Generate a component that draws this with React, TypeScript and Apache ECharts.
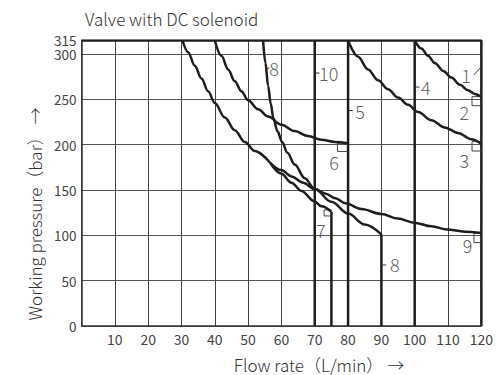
import React, { useEffect, useRef } from "react";
import * as echarts from "echarts";

// ---- data (flow rate L/min, pressure bar) ----
const titleText = "Valve with DC solenoid";
const xName = "Flow rate（L/min） →";
const yName = "Working pressure（bar） →";

const xMin = 0;
const xMax = 120;
const xInterval = 10;
const yMin = 0;
const yMax = 315;
const yInterval = 50;
const yTickLabels = [0, 50, 100, 150, 200, 250, 300];
const yTopLabel = [315];

// boundary along 315 bar and 120 L/min
const boundary = [
  [0, 315],
  [120, 315],
  [120, 0],
];

// vertical limits: [flow, fromPressure, toPressure]
const verticalLimits = [
  [70, 315, 0],
  [80, 315, 0],
  [100, 315, 0],
  [75, 126, 0],
  [90, 101, 0],
];

const curve1 = [
  [100, 315], [102, 306], [104, 298], [106, 290], [108.7, 281], [111, 274],
  [113.6, 266], [116, 260], [118, 256], [120, 253],
];
const curve3 = [
  [80, 315], [83, 297], [86, 283], [89, 271], [92, 261], [95, 252], [98, 244],
  [101, 236], [105, 227], [109, 219], [113, 213], [117, 206], [120, 201],
];
const curve6 = [
  [40, 315], [42, 298], [44, 283], [46, 270], [48, 259], [50, 249], [53, 239],
  [56, 231], [60, 222], [64, 215], [68, 209.5], [72, 205.5], [76, 203], [80, 201.5],
];
const curve8 = [
  [54.5, 315], [55.2, 290], [56, 265], [56.8, 245], [57.6, 229], [58.8, 215],
  [60.2, 203], [61.8, 191], [64, 178], [67, 163], [70, 151], [75, 137],
  [80, 124], [85, 112], [90, 101],
];
const curve79Shared = [
  [30.3, 315], [32, 302], [34, 287], [36, 273], [38, 259], [40, 246], [43, 230],
  [46, 216], [49, 203], [52, 193], [56.6, 180],
];
const curve7 = [
  [56.6, 180], [60, 168], [63, 158], [66, 149], [69.9, 137.5], [72, 132], [75, 126],
];
const curve9 = [
  [56.6, 180], [60, 172], [63, 165], [66.5, 158], [70, 151], [73.3, 146],
  [76.2, 141], [79.2, 135.5], [84, 129], [90, 123.5], [95, 118.5], [99.8, 114],
  [105, 110], [109.7, 106.5], [115, 104], [120, 102.5],
];

// curve number labels: [text, flow, pressure]
const curveLabels: [string, number, number][] = [
  ["1", 115.4, 277],
  ["2", 114.9, 236.5],
  ["3", 114.9, 183],
  ["4", 103.3, 263.5],
  ["5", 83.6, 237],
  ["6", 75.8, 181],
  ["7", 71.8, 106],
  ["8", 57.8, 284.4],
  ["8", 94, 68],
  ["9", 115.9, 89.4],
  ["10", 74.2, 279],
];

// short leader ticks: [fromFlow, toFlow, pressure]
const leaderTicks = [
  [70.3, 71.4, 279],
  [80.3, 81.4, 237.6],
  [100.3, 101.4, 263.5],
  [55.3, 56.3, 284.4],
  [90.3, 91.4, 67.3],
];
// diagonal leader for curve 1: [x1, y1, x2, y2]
const leaderDiag = [[117.8, 277, 119.6, 284.4]];

// brackets at curve end points: [left, right, top, bottom]
const brackets = [
  [117.2, 120, 253, 243],
  [117.2, 120, 203.4, 193],
  [117.8, 120, 102.3, 92],
  [76.8, 80, 201.6, 192.4],
  [72.8, 75, 128, 121.4],
];

const FONT = "'Noto Sans CJK SC', 'Noto Sans', sans-serif";
const INK = "#1e1e1e";
const TEXT = "#444";

export default function App() {
  const ref = useRef<HTMLDivElement>(null);

  useEffect(() => {
    if (!ref.current) return;
    const chart = echarts.init(ref.current, undefined, { renderer: "svg" });

    const curveSeries = (name: string, data: number[][]) => ({
      name,
      type: "line",
      data,
      smooth: 0.35,
      smoothMonotone: "x",
      symbol: "none",
      silent: true,
      lineStyle: { color: INK, width: 2.5 },
      z: 5,
    });
    const straight = (name: string, data: number[][], width: number, color = INK) => ({
      name,
      type: "line",
      data,
      symbol: "none",
      silent: true,
      lineStyle: { color, width },
      z: 4,
    });

    const series: any[] = [
      straight("boundary", boundary, 2.5),
      ...verticalLimits.map((v, i) =>
        straight("vertical" + i, [
          [v[0], v[1]],
          [v[0], v[2]],
        ], 2.5)
      ),
      curveSeries("curve1", curve1),
      curveSeries("curve3", curve3),
      curveSeries("curve6", curve6),
      curveSeries("curve8", curve8),
      curveSeries("curve79", curve79Shared),
      curveSeries("curve7", curve7),
      curveSeries("curve9", curve9),
      ...leaderTicks.map((t, i) =>
        straight("tick" + i, [
          [t[0], t[2]],
          [t[1], t[2]],
        ], 1, "#333")
      ),
      ...leaderDiag.map((d, i) =>
        straight("diag" + i, [
          [d[0], d[1]],
          [d[2], d[3]],
        ], 1, "#333")
      ),
      ...brackets.map((b, i) =>
        straight("bracket" + i, [
          [b[1], b[2]],
          [b[0], b[2]],
          [b[0], b[3]],
          [b[1], b[3]],
        ], 1, "#444")
      ),
      {
        name: "labels",
        type: "scatter",
        symbolSize: 0,
        silent: true,
        data: curveLabels.map(([t, x, y]) => ({ name: t, value: [x, y] })),
        label: {
          show: true,
          position: "inside",
          formatter: "{b}",
          color: "#333",
          fontSize: 18,
          fontFamily: FONT,
          fontWeight: 300,
        },
        z: 6,
      },
    ];

    const labelStyle = {
      margin: 5,
      color: TEXT,
      fontSize: 13.5,
      fontFamily: FONT,
      lineHeight: 12,
    };

    chart.setOption({
      animation: false,
      backgroundColor: "#fff",
      title: {
        text: titleText,
        left: 80,
        top: 5,
        textStyle: { fontSize: 17, fontWeight: 300, color: "#333", fontFamily: FONT },
      },
      grid: { left: 81.5, right: 7.7, top: 40.4, bottom: 49 },
      xAxis: {
        type: "value",
        min: xMin,
        max: xMax,
        interval: xInterval,
        axisLine: { show: true, lineStyle: { color: "#333", width: 1.5 } },
        axisTick: { show: false },
        splitLine: { show: true, lineStyle: { color: "#444", width: 1 } },
        axisLabel: {
          margin: 6,
          color: TEXT,
          fontSize: 14,
          fontFamily: FONT,
          formatter: (v: number) => (v === 0 ? "" : String(v)),
        },
      },
      yAxis: [
        {
          type: "value",
          min: yMin,
          max: yMax,
          interval: yInterval,
          axisLine: { show: true, lineStyle: { color: "#333", width: 1.5 } },
          axisTick: { show: false },
          splitLine: { show: true, lineStyle: { color: "#555", width: 1 } },
          axisLabel: { ...labelStyle, customValues: yTickLabels, padding: [0, 0, 2, 0] },
        },
        {
          type: "value",
          position: "left",
          min: yMin,
          max: yMax,
          interval: yInterval,
          axisLine: { show: false },
          axisTick: { show: false },
          splitLine: { show: false },
          axisLabel: {
            ...labelStyle,
            customValues: yTopLabel,
            showMaxLabel: true,
            padding: [0, 0, 2, 0],
          },
        },
      ],
      graphic: [
        {
          type: "text",
          x: 319,
          y: 364,
          style: {
            text: xName,
            fill: "#333",
            fontSize: 17,
            fontFamily: FONT,
            fontWeight: 300,
            align: "center",
            verticalAlign: "middle",
          },
        },
        {
          type: "text",
          x: 34,
          y: 214,
          rotation: Math.PI / 2,
          style: {
            text: yName,
            fill: "#333",
            fontSize: 17,
            fontFamily: FONT,
            fontWeight: 300,
            align: "center",
            verticalAlign: "middle",
          },
        },
      ],
      series,
    });

    return () => chart.dispose();
  }, []);

  return (
    <div
      ref={ref}
      style={{ position: "fixed", left: 0, top: 0, width: 496, height: 375 }}
    />
  );
}
